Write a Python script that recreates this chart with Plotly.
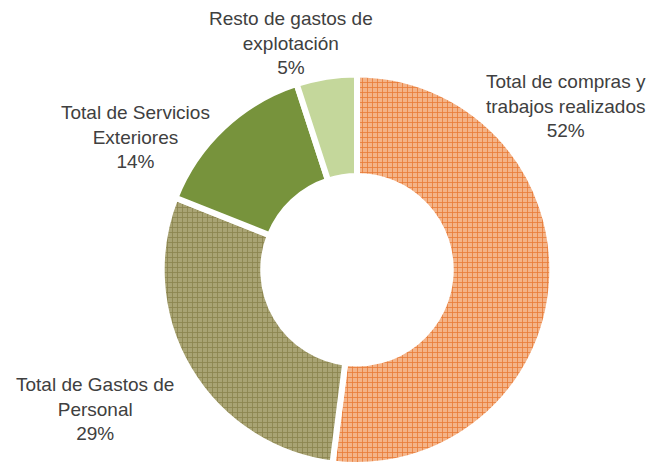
import plotly.graph_objects as go

# Expense breakdown (share of operating costs, %)
categories = [
    "Total de compras y<br>trabajos realizados",
    "Total de Gastos de<br>Personal",
    "Total de Servicios<br>Exteriores",
    "Resto de gastos de<br>explotación",
]
values = [52, 29, 14, 5]

# Slice fills: background colour, grid-line colour, grid pattern
bg_colors = ["#F4B489", "#A9A474", "#77933C", "#C4D79B"]
fg_colors = ["#E97C39", "#8A844E", "#77933C", "#C4D79B"]
shapes = ["+", "+", "", ""]

# Label anchor points in pixels (x, y from top)
W, H = 656, 465
label_px = [(566, 106), (95, 409), (135, 137), (291, 43)]

total = sum(values)
half = 0.84 * H / 2
cx = 357

fig = go.Figure(
    go.Pie(
        labels=categories,
        values=values,
        sort=False,
        direction="clockwise",
        rotation=0,
        hole=0.48,
        textinfo="none",
        hoverinfo="label+percent",
        marker=dict(
            colors=bg_colors,
            line=dict(color="white", width=6),
            pattern=dict(
                shape=shapes,
                fgcolor=fg_colors,
                bgcolor=bg_colors,
                size=5,
                solidity=0.3,
                fillmode="replace",
            ),
        ),
        domain=dict(x=[(cx - half) / W, (cx + half) / W], y=[0, 0.84]),
        showlegend=False,
    )
)

for cat, val, (px, py) in zip(categories, values, label_px):
    pct = round(100 * val / total)
    fig.add_annotation(
        x=px / W,
        y=1 - py / H,
        xref="paper",
        yref="paper",
        xanchor="center",
        yanchor="middle",
        text=f"{cat}<br>{pct}%",
        showarrow=False,
        align="center",
        font=dict(family="Liberation Sans, Arial, sans-serif", size=19, color="#404040"),
    )

fig.update_layout(
    width=W,
    height=H,
    margin=dict(l=0, r=0, t=0, b=0),
    paper_bgcolor="white",
    plot_bgcolor="white",
)

fig.write_html("out.html")
